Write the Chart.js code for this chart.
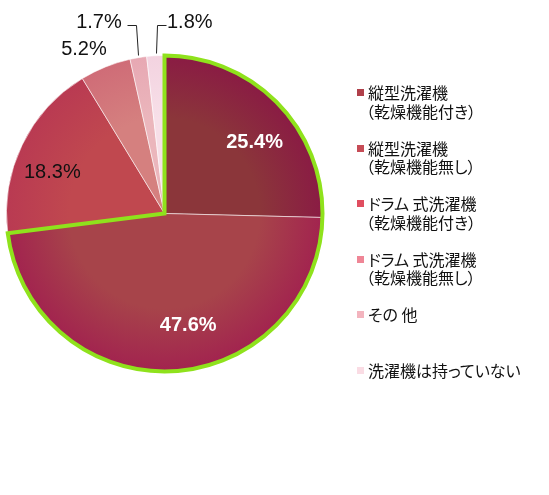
<!DOCTYPE html>
<html>
<head>
<meta charset="utf-8">
<script src="https://cdn.jsdelivr.net/npm/chart.js@4"></script>
<style>
  html, body { margin: 0; padding: 0; background: #fff; }
  #wrap { position: relative; width: 549px; height: 495px; overflow: hidden; }
  #pie { position: absolute; left: 0; top: 0; }
  #legend {
    position: absolute; left: 357px; top: 83px;
    font-family: "Noto Sans CJK JP", sans-serif; font-size: 16px; color: #111;
    font-feature-settings: "palt";
  }
  .item { position: relative; height: 55.6px; line-height: 18.5px; padding-left: 11px; }
  .item .box { position: absolute; left: 0; top: 6px; width: 7px; height: 7px; }
</style>
</head>
<body>
<div id="wrap">
  <canvas id="pie" width="549" height="495"></canvas>
  <div id="legend"></div>
</div>
<script>
// legend text, one entry per slice (second line in parentheses)
const categories = [
  ["縦型洗濯機", "（乾燥機能付き）"],
  ["縦型洗濯機", "（乾燥機能無し）"],
  ["ドラム 式洗濯機", "（乾燥機能付き）"],
  ["ドラム 式洗濯機", "（乾燥機能無し）"],
  ["その 他"],
  ["洗濯機は持っていない"]
];
const shares = [25.4, 47.6, 18.3, 5.2, 1.7, 1.8];

const sliceColors = ["#8b363a", "#a7444a", "#c0484f", "#d5807f", "#ebb6bc", "#f7dfe8"];
const sliceEdges  = ["#8a1b44", "#a2234f", "#b93a52", "#cf6c77", "#e7a8b3", "#f3d3e0"];
const legendColors = ["#b0404a", "#c64c56", "#e04e60", "#ef8696", "#f3b4be", "#fadce4"];

document.addEventListener("DOMContentLoaded", () => {

  /* ---------- LEGEND ---------- */
  const legendEl = document.getElementById("legend");
  categories.forEach((lines, i) => {
    const item = document.createElement("div");
    item.className = "item";
    const box = document.createElement("span");
    box.className = "box";
    box.style.background = legendColors[i];
    item.appendChild(box);
    lines.forEach((t, k) => {
      const line = document.createElement("div");
      line.textContent = t;
      if (k > 0) line.style.marginLeft = "-2px";
      item.appendChild(line);
    });
    legendEl.appendChild(item);
  });

  /* ---------- SOFT EDGE SHADING ---------- */
  function shade(c) {
    const chart = c.chart;
    const area = chart.chartArea;
    const i = c.dataIndex;
    if (!area || i === undefined) return sliceColors[i] || sliceColors[0];
    const cx = (area.left + area.right) / 2;
    const cy = (area.top + area.bottom) / 2;
    const r = Math.min(area.width, area.height) / 2;
    const g = chart.ctx.createRadialGradient(cx, cy, 0, cx, cy, r);
    g.addColorStop(0, sliceColors[i]);
    g.addColorStop(0.6, sliceColors[i]);
    g.addColorStop(1, sliceEdges[i]);
    return g;
  }

  /* ---------- HIGHLIGHT + LABELS ---------- */
  // label centres and leader lines, in units of the pie radius from its centre
  const labelSpots = [
    { dx: 0.57, dy: -0.45, color: "#fff", bold: true },
    { dx: 0.15, dy: 0.71, color: "#fff", bold: true },
    { dx: -0.71, dy: -0.257, color: "#111" },
    { dx: -0.51, dy: -1.035, color: "#111" },
    { dx: -0.415, dy: -1.21, color: "#111", leader: [[-0.237, -1.193], [-0.18, -1.193], [-0.168, -1.003]] },
    { dx: 0.16, dy: -1.21, color: "#111", leader: [[0.0095, -1.193], [-0.047, -1.193], [-0.054, -1.015]] }
  ];

  const pieDecor = {
    id: "pieDecor",
    afterDatasetsDraw(chart) {
      const ctx = chart.ctx;
      const arcs = chart.getDatasetMeta(0).data;
      const a0 = arcs[0], a1 = arcs[1];
      const cx = a0.x, cy = a0.y, R = a0.outerRadius;

      // green outline around the two vertical-type slices
      ctx.save();
      ctx.beginPath();
      ctx.moveTo(cx, cy);
      ctx.arc(cx, cy, R, a0.startAngle, a1.endAngle);
      ctx.closePath();
      ctx.lineWidth = 4;
      ctx.lineJoin = "miter";
      ctx.strokeStyle = "#8fe21c";
      ctx.stroke();
      ctx.restore();

      // value labels
      ctx.save();
      ctx.textAlign = "center";
      ctx.textBaseline = "middle";
      shares.forEach((v, i) => {
        const s = labelSpots[i];
        ctx.font = (s.bold ? "bold " : "") + "20px 'Liberation Sans', Arial, sans-serif";
        ctx.fillStyle = s.color;
        ctx.fillText(v.toFixed(1) + "%", cx + s.dx * R, cy + s.dy * R);
        if (s.leader) {
          ctx.beginPath();
          s.leader.forEach((p, k) => {
            const px = Math.round(cx + p[0] * R) + 0.5, py = Math.round(cy + p[1] * R) + 0.5;
            if (k === 0) ctx.moveTo(px, py); else ctx.lineTo(px, py);
          });
          ctx.lineWidth = 1;
          ctx.strokeStyle = "#222";
          ctx.stroke();
        }
      });
      ctx.restore();
    }
  };

  /* ---------- CHART ---------- */
  new Chart(document.getElementById("pie").getContext("2d"), {
    type: "pie",
    data: {
      labels: categories.map(l => l.join("")),
      datasets: [{
        data: shares,
        backgroundColor: shade,
        borderColor: "rgba(255,255,255,0.55)",
        borderWidth: 1,
        hoverOffset: 0
      }]
    },
    options: {
      responsive: false,
      animation: false,
      layout: { padding: { left: 6, right: 226, top: 55, bottom: 123 } },
      plugins: {
        legend: { display: false },
        tooltip: { enabled: false }
      }
    },
    plugins: [pieDecor]
  });
});
</script>
</body>
</html>
